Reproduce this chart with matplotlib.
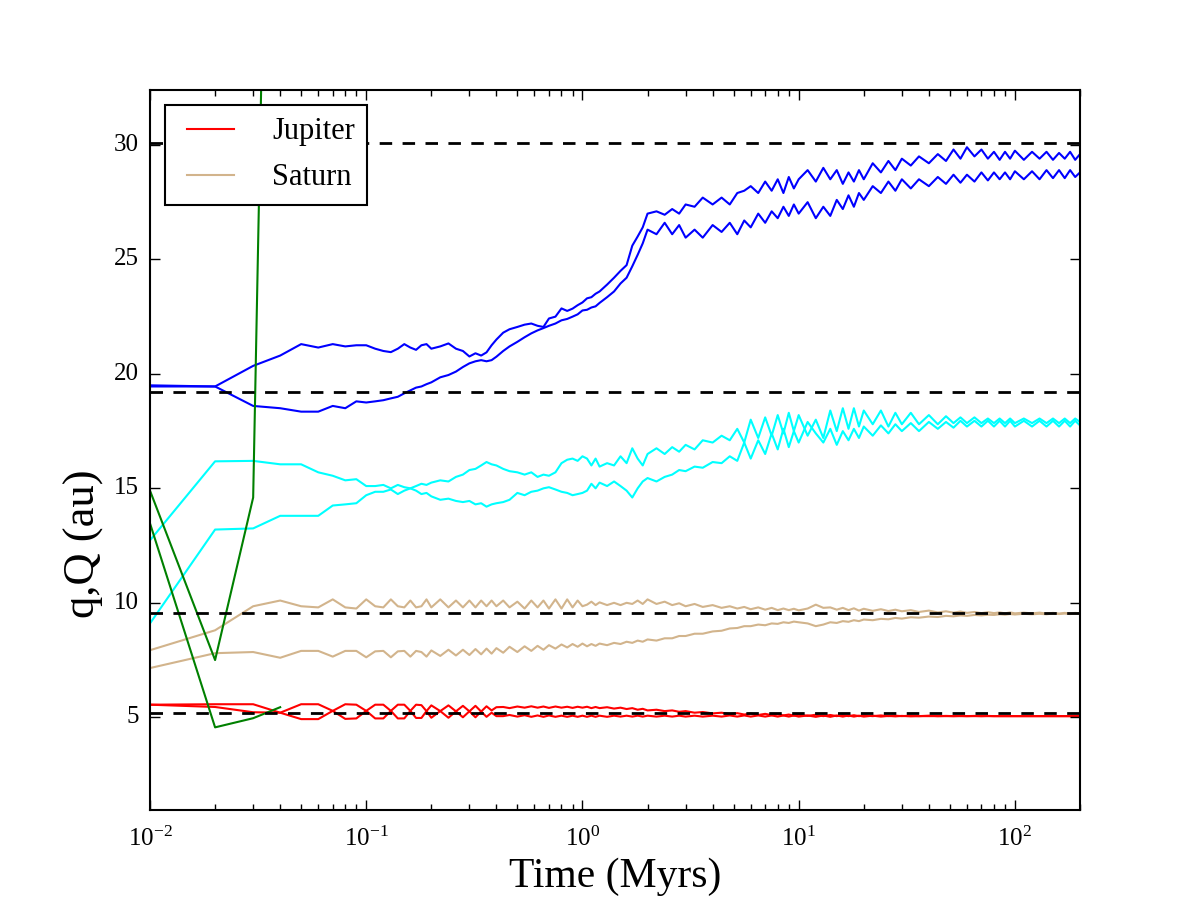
import matplotlib
matplotlib.use('Agg')
import matplotlib.pyplot as plt

# time samples (Myrs), shared by the planets
t = [0.01, 0.02, 0.03, 0.04, 0.05, 0.06, 0.07, 0.08, 0.09, 0.10,
     0.11, 0.12, 0.13, 0.14, 0.15, 0.16, 0.17, 0.18, 0.19, 0.20,
     0.22, 0.24, 0.26, 0.28, 0.30, 0.32, 0.34, 0.36, 0.38, 0.40,
     0.43, 0.46, 0.50, 0.54, 0.58, 0.62, 0.66, 0.70, 0.75, 0.80, 0.85, 0.90, 0.95, 1.0,
     1.05, 1.1, 1.15, 1.2, 1.3, 1.4, 1.5, 1.6, 1.7, 1.8, 1.9, 2.0, 2.2, 2.4, 2.6, 2.8,
     3.0, 3.3, 3.6, 4.0, 4.4, 4.8, 5.2, 5.6, 6.0, 6.5, 7.0, 7.5, 8.0, 8.5, 9.0, 9.5, 10,
     11, 12, 13, 14, 15, 16, 17, 18, 19, 20, 22, 24, 26, 28, 30,
     33, 36, 40, 44, 48, 52, 56, 60, 65, 70, 75, 80, 85, 90, 95, 100,
     110, 120, 130, 140, 150, 160, 170, 180, 190, 200]

# Jupiter q,Q
jup_1 = [5.55, 5.57, 5.57, 5.2, 4.92, 4.92, 5.28, 5.57, 5.55, 5.28,
         4.95, 4.95, 5.28, 5.55, 5.55, 5.28, 4.97, 4.97, 5.27, 5.52,
         5.27, 4.98, 5.26, 5.5, 5.26, 5.0, 5.25, 5.48, 5.3, 5.44,
         5.45, 5.4, 5.47, 5.42, 5.48, 5.42, 5.47, 5.41, 5.47, 5.42, 5.46, 5.41, 5.46, 5.42,
         5.46, 5.4, 5.45, 5.4, 5.44, 5.38, 5.42, 5.36, 5.4, 5.33,
         5.37, 5.3, 5.33, 5.27, 5.3, 5.24, 5.27, 5.2, 5.23, 5.17,
         5.2, 5.14, 5.18, 5.12, 5.16, 5.1, 5.15, 5.09, 5.13, 5.08, 5.12, 5.07, 5.11,
         5.06, 5.11, 5.05, 5.1, 5.05, 5.09, 5.05, 5.09, 5.05, 5.08,
         5.05, 5.08, 5.05, 5.07, 5.05, 5.07, 5.05, 5.07, 5.05, 5.06,
         5.05, 5.06, 5.05, 5.06, 5.05, 5.06, 5.05, 5.05, 5.05, 5.05,
         5.05, 5.05, 5.05, 5.05, 5.05, 5.05, 5.05, 5.05, 5.05, 5.05, 5.05]
jup_2 = [5.55, 5.45, 5.22, 5.2, 5.57, 5.57, 5.28, 4.93, 4.95, 5.28,
         5.55, 5.55, 5.28, 4.95, 4.95, 5.28, 5.55, 5.53, 5.27, 4.98,
         5.27, 5.52, 5.26, 5.0, 5.26, 5.5, 5.25, 5.02, 5.2, 5.05,
         5.05, 5.1, 5.03, 5.09, 5.02, 5.08, 5.02, 5.08, 5.02, 5.07, 5.02, 5.07, 5.02, 5.07,
         5.02, 5.07, 5.02, 5.07, 5.02, 5.07, 5.03, 5.07, 5.03, 5.07,
         5.03, 5.07, 5.03, 5.07, 5.03, 5.07, 5.03, 5.07, 5.03, 5.07,
         5.03, 5.08, 5.03, 5.08, 5.03, 5.08, 5.03, 5.08, 5.03, 5.08, 5.03, 5.08, 5.03,
         5.08, 5.02, 5.08, 5.02, 5.08, 5.03, 5.08, 5.03, 5.07, 5.03,
         5.07, 5.03, 5.06, 5.04, 5.06, 5.04, 5.05, 5.05, 5.05, 5.05,
         5.05, 5.05, 5.05, 5.05, 5.05, 5.05, 5.05, 5.05, 5.05, 5.05,
         5.05, 5.05, 5.05, 5.05, 5.05, 5.05, 5.05, 5.05, 5.05, 5.05, 5.05]

# Saturn q,Q
sat_1 = [7.93, 8.8, 9.85, 10.1, 9.85, 9.8, 10.15, 9.8, 9.75, 10.15,
         9.85, 9.8, 10.15, 9.85, 9.8, 10.1, 9.8, 9.85, 10.15, 9.8,
         10.15, 9.8, 10.1, 9.8, 10.1, 9.8, 10.1, 9.85, 10.1, 9.85,
         10.1, 9.8, 10.05, 9.75, 10.1, 9.8, 10.1, 9.75, 10.15, 9.75, 10.15, 9.8, 10.1, 9.85,
         9.92, 10.05, 9.9, 10.02, 9.9, 10.0, 9.9, 10.0, 9.95, 10.1,
         9.95, 10.15, 9.95, 10.05, 9.9, 9.98, 9.85, 9.95, 9.82, 9.9,
         9.78, 9.85, 9.75, 9.82, 9.72, 9.8, 9.7, 9.78, 9.68, 9.75, 9.68, 9.74, 9.67,
         9.75, 9.92, 9.78, 9.8, 9.7, 9.78, 9.68, 9.76, 9.66, 9.74,
         9.65, 9.72, 9.64, 9.7, 9.63, 9.68, 9.6, 9.66, 9.58, 9.63,
         9.57, 9.62, 9.56, 9.6, 9.55, 9.59, 9.55, 9.58, 9.54, 9.58,
         9.54, 9.57, 9.54, 9.57, 9.53, 9.56, 9.53, 9.56, 9.53, 9.56, 9.54]
sat_2 = [7.15, 7.8, 7.85, 7.6, 7.9, 7.9, 7.65, 7.9, 7.9, 7.62,
         7.88, 7.9, 7.62, 7.88, 7.9, 7.65, 7.9, 7.85, 7.65, 7.92,
         7.68, 7.95, 7.7, 7.95, 7.72, 7.98, 7.75, 8.0, 7.78, 8.02,
         7.82, 8.08, 7.85, 8.1, 7.9, 8.12, 7.95, 8.15, 8.0, 8.18, 8.05, 8.2, 8.08, 8.22,
         8.1, 8.2, 8.12, 8.22, 8.15, 8.25, 8.2, 8.3, 8.25, 8.35,
         8.3, 8.4, 8.35, 8.45, 8.45, 8.55, 8.55, 8.65, 8.65, 8.75,
         8.78, 8.88, 8.9, 8.98, 8.98, 9.05, 9.02, 9.1, 9.08, 9.15, 9.12, 9.18, 9.15,
         9.1, 8.98, 9.05, 9.15, 9.12, 9.2, 9.17, 9.24, 9.2, 9.27,
         9.24, 9.3, 9.28, 9.34, 9.31, 9.37, 9.35, 9.4, 9.38, 9.43,
         9.41, 9.45, 9.43, 9.47, 9.45, 9.48, 9.47, 9.5, 9.48, 9.51,
         9.49, 9.52, 9.5, 9.52, 9.5, 9.53, 9.51, 9.53, 9.51, 9.53, 9.52]

# Uranus q,Q
ura_1 = [12.73, 16.18, 16.2, 16.05, 16.05, 15.7, 15.55, 15.35, 15.4, 15.1,
         15.1, 15.15, 15.0, 15.15, 15.05, 15.0, 14.9, 14.75, 14.8, 14.65,
         14.5, 14.55, 14.45, 14.4, 14.45, 14.3, 14.35, 14.2, 14.3, 14.35,
         14.4, 14.5, 14.8, 14.7, 14.85, 14.9, 15.0, 15.05, 14.95, 14.85, 14.8, 14.7, 14.75, 14.8,
         14.9, 15.2, 15.0, 15.25, 15.1, 15.3, 15.1, 14.9, 14.6, 15.0,
         15.3, 15.45, 15.3, 15.5, 15.6, 15.8, 15.75, 15.95, 15.9, 16.15,
         16.1, 16.4, 16.2, 17.0, 16.3, 17.1, 16.5, 17.4, 16.7, 17.6, 16.8, 17.5, 17.0,
         17.9, 17.4, 17.0, 17.6, 16.9, 17.5, 17.1, 17.6, 17.2, 17.7,
         17.3, 17.75, 17.4, 17.8, 17.5, 17.85, 17.5, 17.9, 17.6, 17.9,
         17.65, 17.95, 17.7, 17.95, 17.7, 17.95, 17.7, 17.95, 17.7, 17.95,
         17.7, 17.95, 17.7, 17.95, 17.7, 17.95, 17.7, 17.95, 17.7, 17.95, 17.75]
ura_2 = [9.1, 13.2, 13.25, 13.8, 13.8, 13.8, 14.25, 14.3, 14.35, 14.7,
         14.85, 14.85, 14.95, 14.75, 14.9, 15.0, 15.1, 15.2, 15.15, 15.25,
         15.35, 15.3, 15.5, 15.6, 15.8, 15.85, 16.0, 16.15, 16.05, 16.0,
         15.85, 15.75, 15.7, 15.6, 15.7, 15.5, 15.6, 15.55, 15.7, 16.1, 16.25, 16.3, 16.2, 16.4,
         16.3, 16.0, 16.3, 15.95, 16.1, 16.0, 16.4, 16.1, 16.75, 16.3,
         16.0, 16.5, 16.75, 16.5, 16.8, 16.6, 16.9, 16.7, 17.1, 17.0,
         17.3, 17.1, 17.6, 17.0, 18.0, 17.2, 18.1, 17.3, 18.2, 17.4, 18.3, 17.5, 18.2,
         17.3, 18.0, 17.2, 18.4, 17.5, 18.5, 17.6, 18.5, 17.7, 18.4,
         17.8, 18.4, 17.7, 18.3, 17.8, 18.3, 17.8, 18.2, 17.8, 18.15,
         17.85, 18.1, 17.85, 18.1, 17.85, 18.05, 17.85, 18.05, 17.85, 18.05,
         17.85, 18.05, 17.85, 18.05, 17.85, 18.05, 17.85, 18.05, 17.85, 18.05, 17.9]

# Neptune q,Q
nep_1 = [19.5, 19.45, 20.35, 20.8, 21.3, 21.15, 21.3, 21.2, 21.25, 21.25,
         21.1, 21.0, 20.95, 21.1, 21.3, 21.15, 21.05, 21.25, 21.3, 21.1,
         21.2, 21.33, 21.1, 21.0, 20.76, 20.9, 20.8, 20.94, 21.25, 21.5,
         21.8, 21.95, 22.05, 22.15, 22.2, 22.1, 22.05, 22.42, 22.5, 22.86, 22.75, 22.85, 23.0, 23.12,
         23.3, 23.35, 23.5, 23.6, 23.9, 24.2, 24.5, 24.75, 25.6, 26.0,
         26.4, 27.0, 27.1, 26.95, 27.2, 27.0, 27.4, 27.3, 27.7, 27.4,
         27.7, 27.4, 27.9, 28.0, 28.2, 27.9, 28.4, 28.0, 28.5, 27.9, 28.6, 28.1, 28.5,
         28.9, 28.4, 29.0, 28.5, 28.9, 28.3, 28.8, 28.4, 28.9, 28.5,
         29.2, 28.8, 29.3, 28.9, 29.4, 29.1, 29.5, 29.2, 29.6, 29.3,
         29.8, 29.4, 29.9, 29.5, 29.8, 29.4, 29.7, 29.35, 29.7, 29.4,
         29.75, 29.35, 29.7, 29.4, 29.7, 29.35, 29.65, 29.4, 29.7, 29.35, 29.6]
nep_2 = [19.45, 19.45, 18.6, 18.5, 18.35, 18.35, 18.6, 18.5, 18.8, 18.75,
         18.8, 18.85, 18.93, 19.0, 19.15, 19.28, 19.4, 19.45, 19.55, 19.63,
         19.85, 19.95, 20.1, 20.3, 20.46, 20.55, 20.6, 20.55, 20.6, 20.75,
         21.0, 21.2, 21.4, 21.6, 21.77, 21.9, 22.0, 22.1, 22.2, 22.34, 22.4, 22.5, 22.6, 22.77,
         22.8, 22.9, 22.95, 23.1, 23.35, 23.6, 23.95, 24.2, 24.7, 25.2,
         25.7, 26.3, 26.1, 26.6, 26.1, 26.5, 25.95, 26.3, 25.95, 26.5,
         26.2, 26.6, 26.1, 26.7, 26.4, 27.0, 26.6, 27.1, 26.8, 27.3, 26.9, 27.4, 27.0,
         27.5, 26.8, 27.3, 26.9, 27.6, 27.2, 27.8, 27.3, 27.9, 27.6,
         28.2, 27.9, 28.4, 28.0, 28.5, 28.1, 28.5, 28.2, 28.6, 28.3,
         28.7, 28.35, 28.7, 28.4, 28.8, 28.45, 28.8, 28.5, 28.8, 28.5,
         28.85, 28.5, 28.85, 28.5, 28.9, 28.55, 28.9, 28.55, 28.9, 28.6, 28.8]

# the fifth planet, ejected early
t_ej = [0.01, 0.02, 0.03, 0.04]
ej_1 = [14.9, 7.5, 14.6, 75.0]
ej_2 = [13.47, 4.56, 4.96, 5.44]

# semi-major axes of the present planets
a_now = [5.2, 9.55, 19.2, 30.1]

plt.style.use('classic')
plt.rcParams['font.family'] = ['Liberation Serif', 'DejaVu Serif']
plt.rcParams['mathtext.fontset'] = 'custom'
plt.rcParams['mathtext.rm'] = 'Liberation Serif'
plt.rcParams['mathtext.it'] = 'Liberation Serif:italic'
plt.rcParams['mathtext.bf'] = 'Liberation Serif:bold'

fig = plt.figure(figsize=(12, 9), dpi=100, facecolor='white')
ax = fig.add_subplot(111)

lw = 1.5
ax.plot(t, jup_1, color='red', lw=lw, label='Jupiter')
ax.plot(t, jup_2, color='red', lw=lw)
ax.plot(t, sat_1, color='tan', lw=lw, label='Saturn')
ax.plot(t, sat_2, color='tan', lw=lw)
ax.plot(t, ura_1, color='cyan', lw=lw)
ax.plot(t, ura_2, color='cyan', lw=lw)
ax.plot(t, nep_1, color='blue', lw=lw)
ax.plot(t, nep_2, color='blue', lw=lw)
ax.plot(t_ej, ej_1, color='green', lw=lw)
ax.plot(t_ej, ej_2, color='green', lw=lw)

# dashed lines at today's orbits
for a in a_now:
    ax.axhline(a, color='black', ls='--', lw=2, dashes=(9, 7.5))

ax.set_xscale('log')
ax.set_xlim(0.01, 200)
ax.set_ylim(0.95, 32.4)
ax.set_yticks([5, 10, 15, 20, 25, 30])

ax.set_xlabel('Time (Myrs)', fontsize=30)
ax.set_ylabel('q,Q (au)', fontsize=32)
ax.yaxis.set_label_coords(-0.05, 0.37)
ax.tick_params(labelsize=18)
ax.tick_params(axis='x', pad=12)
ax.tick_params(axis='y', pad=8)
ax.tick_params(which='major', length=7, width=1)
ax.tick_params(which='minor', length=4, width=1)
for s in ax.spines.values():
    s.set_linewidth(1.5)

leg = ax.legend(loc='upper left', fontsize=22, handlelength=2.15,
                handletextpad=0.95, labelspacing=0.55, borderaxespad=0.5)
leg.get_frame().set_linewidth(1.5)
leg.get_frame().set_edgecolor('black')

fig.savefig('out.png', dpi=100, facecolor='white')
